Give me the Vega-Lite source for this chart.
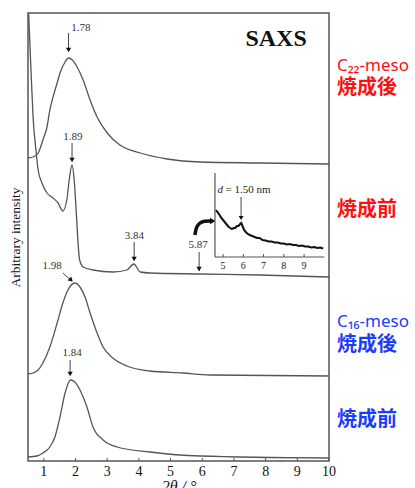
{
  "$schema": "https://vega.github.io/schema/vega-lite/v6.json",
  "width": 301,
  "height": 448,
  "autosize": "none",
  "padding": {"left": 28, "top": 13, "right": 86, "bottom": 27},
  "background": "white",
  "config": {
    "view": {"stroke": "#555", "strokeWidth": 1.5},
    "font": "Liberation Serif"
  },
  "datasets": {
    "curves": [
      {"series": "C22 after", "x": 0.5, "y": 303}, {"series": "C22 after", "x": 0.66, "y": 304}, {"series": "C22 after", "x": 0.82, "y": 308},
      {"series": "C22 after", "x": 0.97, "y": 321}, {"series": "C22 after", "x": 1.10, "y": 334}, {"series": "C22 after", "x": 1.19, "y": 351},
      {"series": "C22 after", "x": 1.29, "y": 364}, {"series": "C22 after", "x": 1.42, "y": 378}, {"series": "C22 after", "x": 1.51, "y": 388},
      {"series": "C22 after", "x": 1.67, "y": 399}, {"series": "C22 after", "x": 1.78, "y": 403}, {"series": "C22 after", "x": 1.90, "y": 401},
      {"series": "C22 after", "x": 2.05, "y": 394}, {"series": "C22 after", "x": 2.24, "y": 381}, {"series": "C22 after", "x": 2.46, "y": 361},
      {"series": "C22 after", "x": 2.68, "y": 344}, {"series": "C22 after", "x": 3.0, "y": 328}, {"series": "C22 after", "x": 3.4, "y": 316},
      {"series": "C22 after", "x": 4.04, "y": 308}, {"series": "C22 after", "x": 4.89, "y": 302}, {"series": "C22 after", "x": 5.93, "y": 299},
      {"series": "C22 after", "x": 7.82, "y": 298}, {"series": "C22 after", "x": 10.0, "y": 297},

      {"series": "C22 before", "x": 0.52, "y": 448}, {"series": "C22 before", "x": 0.59, "y": 394}, {"series": "C22 before", "x": 0.66, "y": 344},
      {"series": "C22 before", "x": 0.75, "y": 311}, {"series": "C22 before", "x": 0.82, "y": 291}, {"series": "C22 before", "x": 0.94, "y": 278},
      {"series": "C22 before", "x": 1.10, "y": 268}, {"series": "C22 before", "x": 1.29, "y": 263}, {"series": "C22 before", "x": 1.45, "y": 258},
      {"series": "C22 before", "x": 1.60, "y": 250}, {"series": "C22 before", "x": 1.73, "y": 262}, {"series": "C22 before", "x": 1.80, "y": 281},
      {"series": "C22 before", "x": 1.89, "y": 296}, {"series": "C22 before", "x": 1.96, "y": 280}, {"series": "C22 before", "x": 2.03, "y": 245},
      {"series": "C22 before", "x": 2.08, "y": 218}, {"series": "C22 before", "x": 2.13, "y": 201}, {"series": "C22 before", "x": 2.24, "y": 194},
      {"series": "C22 before", "x": 2.55, "y": 191}, {"series": "C22 before", "x": 3.18, "y": 189}, {"series": "C22 before", "x": 3.62, "y": 191},
      {"series": "C22 before", "x": 3.84, "y": 197}, {"series": "C22 before", "x": 4.04, "y": 189}, {"series": "C22 before", "x": 4.35, "y": 188},
      {"series": "C22 before", "x": 5.93, "y": 187}, {"series": "C22 before", "x": 7.82, "y": 186}, {"series": "C22 before", "x": 10.0, "y": 184},

      {"series": "C16 after", "x": 0.5, "y": 87}, {"series": "C16 after", "x": 0.66, "y": 88}, {"series": "C16 after", "x": 0.82, "y": 91},
      {"series": "C16 after", "x": 0.97, "y": 98}, {"series": "C16 after", "x": 1.19, "y": 114}, {"series": "C16 after", "x": 1.42, "y": 138},
      {"series": "C16 after", "x": 1.60, "y": 158}, {"series": "C16 after", "x": 1.76, "y": 171}, {"series": "C16 after", "x": 1.98, "y": 178},
      {"series": "C16 after", "x": 2.14, "y": 174}, {"series": "C16 after", "x": 2.30, "y": 164}, {"series": "C16 after", "x": 2.46, "y": 148},
      {"series": "C16 after", "x": 2.68, "y": 128}, {"series": "C16 after", "x": 2.87, "y": 114}, {"series": "C16 after", "x": 3.18, "y": 103},
      {"series": "C16 after", "x": 3.62, "y": 95}, {"series": "C16 after", "x": 4.35, "y": 90}, {"series": "C16 after", "x": 5.39, "y": 88},
      {"series": "C16 after", "x": 6.24, "y": 86}, {"series": "C16 after", "x": 10.0, "y": 85},

      {"series": "C16 before", "x": 0.5, "y": 4}, {"series": "C16 before", "x": 0.78, "y": 5}, {"series": "C16 before", "x": 0.97, "y": 8},
      {"series": "C16 before", "x": 1.19, "y": 14}, {"series": "C16 before", "x": 1.35, "y": 24}, {"series": "C16 before", "x": 1.51, "y": 44},
      {"series": "C16 before", "x": 1.67, "y": 68}, {"series": "C16 before", "x": 1.84, "y": 81}, {"series": "C16 before", "x": 1.98, "y": 79},
      {"series": "C16 before", "x": 2.14, "y": 71}, {"series": "C16 before", "x": 2.36, "y": 54}, {"series": "C16 before", "x": 2.55, "y": 34},
      {"series": "C16 before", "x": 2.87, "y": 21}, {"series": "C16 before", "x": 3.31, "y": 14}, {"series": "C16 before", "x": 4.35, "y": 9},
      {"series": "C16 before", "x": 5.93, "y": 5}, {"series": "C16 before", "x": 10.0, "y": 3}
    ],
    "xticks": [
      {"x": 1, "label": "1"}, {"x": 2, "label": "2"}, {"x": 3, "label": "3"}, {"x": 4, "label": "4"}, {"x": 5, "label": "5"},
      {"x": 6, "label": "6"}, {"x": 7, "label": "7"}, {"x": 8, "label": "8"}, {"x": 9, "label": "9"}, {"x": 10, "label": "10"}
    ],
    "arrows": [
      {"x": 1.78, "x2": 1.78, "y": 428, "y2": 410},
      {"x": 1.89, "x2": 1.89, "y": 318, "y2": 300},
      {"x": 3.85, "x2": 3.85, "y": 219, "y2": 201},
      {"x": 5.90, "x2": 5.90, "y": 209, "y2": 190},
      {"x": 1.83, "x2": 1.83, "y": 101, "y2": 86},
      {"x": 1.60, "x2": 1.88, "y": 188, "y2": 180}
    ],
    "heads": [
      {"x": 1.78, "y": 411, "kind": "down"},
      {"x": 1.89, "y": 301, "kind": "down"},
      {"x": 3.85, "y": 202, "kind": "down"},
      {"x": 5.90, "y": 192, "kind": "down"},
      {"x": 1.83, "y": 87, "kind": "down"},
      {"x": 1.86, "y": 181, "kind": "diag"}
    ],
    "peaks": [
      {"label": "1.78", "x": 2.17, "y": 433},
      {"label": "1.89", "x": 1.92, "y": 324},
      {"label": "3.84", "x": 3.86, "y": 225},
      {"label": "5.87", "x": 5.87, "y": 216},
      {"label": "1.98", "x": 1.26, "y": 195},
      {"label": "1.84", "x": 1.89, "y": 108}
    ],
    "curl": [
      {"x": 5.77, "y": 226}, {"x": 5.80, "y": 233}, {"x": 5.90, "y": 238}, {"x": 6.06, "y": 240}, {"x": 6.28, "y": 240}
    ],
    "side": [
      {"text": "C₂₂-meso", "x": 10.25, "y": 395, "grp": "red", "kind": "latin"},
      {"text": "焼成後", "x": 10.25, "y": 373, "grp": "red", "kind": "jp"},
      {"text": "焼成前", "x": 10.25, "y": 251, "grp": "red", "kind": "jp"},
      {"text": "C₁₆-meso", "x": 10.25, "y": 139, "grp": "blue", "kind": "latin"},
      {"text": "焼成後", "x": 10.25, "y": 116, "grp": "blue", "kind": "jp"},
      {"text": "焼成前", "x": 10.25, "y": 41, "grp": "blue", "kind": "jp"}
    ],
    "inset": [
      {"x": 4.65, "y": 47}, {"x": 4.72, "y": 45}, {"x": 4.80, "y": 43}, {"x": 4.88, "y": 40}, {"x": 4.96, "y": 38},
      {"x": 5.04, "y": 36}, {"x": 5.12, "y": 34}, {"x": 5.20, "y": 32}, {"x": 5.28, "y": 30}, {"x": 5.36, "y": 29},
      {"x": 5.44, "y": 28}, {"x": 5.52, "y": 29}, {"x": 5.60, "y": 29}, {"x": 5.68, "y": 31}, {"x": 5.76, "y": 31},
      {"x": 5.84, "y": 33}, {"x": 5.90, "y": 34}, {"x": 5.96, "y": 31}, {"x": 6.04, "y": 27}, {"x": 6.12, "y": 25},
      {"x": 6.22, "y": 23}, {"x": 6.32, "y": 22}, {"x": 6.44, "y": 21}, {"x": 6.56, "y": 20}, {"x": 6.68, "y": 19},
      {"x": 6.80, "y": 19}, {"x": 6.95, "y": 17}, {"x": 7.10, "y": 16.5}, {"x": 7.25, "y": 15.5}, {"x": 7.40, "y": 15.5},
      {"x": 7.55, "y": 14.5}, {"x": 7.70, "y": 14.5}, {"x": 7.85, "y": 13.5}, {"x": 8.00, "y": 13.5}, {"x": 8.15, "y": 12.5},
      {"x": 8.30, "y": 13}, {"x": 8.45, "y": 12}, {"x": 8.60, "y": 12}, {"x": 8.75, "y": 11}, {"x": 8.90, "y": 11.5},
      {"x": 9.05, "y": 10.5}, {"x": 9.20, "y": 10.5}, {"x": 9.35, "y": 9.5}, {"x": 9.50, "y": 10}, {"x": 9.65, "y": 9},
      {"x": 9.80, "y": 9.5}, {"x": 9.94, "y": 8.5}
    ],
    "insetAxes": [
      {"x": 4.6, "x2": 4.6, "y": 0, "y2": 84},
      {"x": 4.6, "x2": 10.0, "y": 0, "y2": 0}
    ],
    "insetTicks": [
      {"x": 5, "label": "5"}, {"x": 6, "label": "6"}, {"x": 7, "label": "7"}, {"x": 8, "label": "8"}, {"x": 9, "label": "9"}
    ]
  },
  "layer": [
    {
      "layer": [
        {
          "data": {"name": "curves"},
          "mark": {"type": "line", "interpolate": "monotone", "color": "#555", "strokeWidth": 1.3, "clip": true},
          "encoding": {
            "x": {"field": "x", "type": "quantitative", "scale": {"domain": [0.5, 10], "nice": false, "zero": false},
              "axis": {"labels": false, "ticks": false, "grid": false, "domain": false,
                "title": "2θ / °", "titleFont": "Liberation Serif", "titleFontSize": 16, "titleFontWeight": "normal", "titleFontStyle": "italic", "titleColor": "#111", "titlePadding": 17}},
            "y": {"field": "y", "type": "quantitative", "scale": {"domain": [0, 448], "nice": false, "zero": false},
              "axis": {"ticks": false, "labels": false, "domain": false, "grid": false,
                "title": "Arbitrary intensity", "titleFont": "Liberation Serif", "titleFontSize": 13.5, "titleFontWeight": "normal", "titleColor": "#111", "titlePadding": 6}},
            "detail": {"field": "series"}
          }
        },
        {
          "data": {"name": "xticks"},
          "mark": {"type": "rule", "color": "#555", "strokeWidth": 1},
          "encoding": {
            "x": {"field": "x", "type": "quantitative"},
            "y": {"datum": 0, "type": "quantitative"},
            "y2": {"datum": 3}
          }
        },
        {
          "data": {"name": "xticks"},
          "mark": {"type": "text", "font": "Liberation Serif", "fontSize": 14, "color": "#111", "baseline": "middle", "align": "center", "dy": 11},
          "encoding": {
            "x": {"field": "x", "type": "quantitative"},
            "y": {"datum": 0, "type": "quantitative"},
            "text": {"field": "label"}
          }
        },
        {
          "data": {"name": "arrows"},
          "mark": {"type": "rule", "color": "#444", "strokeWidth": 1},
          "encoding": {
            "x": {"field": "x", "type": "quantitative"},
            "x2": {"field": "x2"},
            "y": {"field": "y", "type": "quantitative"},
            "y2": {"field": "y2"}
          }
        },
        {
          "data": {"name": "heads"},
          "transform": [{"filter": "datum.kind === 'down'"}],
          "mark": {"type": "point", "shape": "triangle-down", "filled": true, "color": "#111", "size": 28, "opacity": 1},
          "encoding": {
            "x": {"field": "x", "type": "quantitative"},
            "y": {"field": "y", "type": "quantitative"}
          }
        },
        {
          "data": {"name": "heads"},
          "transform": [{"filter": "datum.kind === 'diag'"}],
          "mark": {"type": "point", "shape": "triangle-down", "filled": true, "color": "#111", "size": 28, "opacity": 1, "angle": 312},
          "encoding": {
            "x": {"field": "x", "type": "quantitative"},
            "y": {"field": "y", "type": "quantitative"}
          }
        },
        {
          "data": {"name": "peaks"},
          "mark": {"type": "text", "font": "Liberation Serif", "fontSize": 11, "color": "#333", "baseline": "middle", "align": "center"},
          "encoding": {
            "x": {"field": "x", "type": "quantitative"},
            "y": {"field": "y", "type": "quantitative"},
            "text": {"field": "label"}
          }
        },
        {
          "data": {"name": "curl"},
          "mark": {"type": "line", "interpolate": "basis", "color": "#111", "strokeWidth": 3.5},
          "encoding": {
            "x": {"field": "x", "type": "quantitative"},
            "y": {"field": "y", "type": "quantitative"}
          }
        },
        {
          "data": {"values": [{"x": 6.33, "y": 240}]},
          "mark": {"type": "point", "shape": "triangle-right", "filled": true, "color": "#111", "size": 40, "opacity": 1},
          "encoding": {
            "x": {"field": "x", "type": "quantitative"},
            "y": {"field": "y", "type": "quantitative"}
          }
        },
        {
          "data": {"values": [{"text": "SAXS", "x": 8.33, "y": 422}]},
          "mark": {"type": "text", "font": "Liberation Serif", "fontSize": 24, "fontWeight": "bold", "color": "#111", "baseline": "middle", "align": "center"},
          "encoding": {
            "x": {"field": "x", "type": "quantitative"},
            "y": {"field": "y", "type": "quantitative"},
            "text": {"field": "text"}
          }
        },
        {
          "data": {"name": "side"},
          "transform": [{"filter": "datum.kind === 'jp'"}],
          "mark": {"type": "text", "font": "Noto Sans CJK JP", "fontSize": 20, "fontWeight": "bold", "align": "left", "baseline": "middle"},
          "encoding": {
            "x": {"field": "x", "type": "quantitative"},
            "y": {"field": "y", "type": "quantitative"},
            "text": {"field": "text"},
            "color": {"field": "grp", "type": "nominal", "scale": {"domain": ["red", "blue"], "range": ["#ff1010", "#1a3cff"]}, "legend": null}
          }
        },
        {
          "data": {"name": "side"},
          "transform": [{"filter": "datum.kind === 'latin'"}],
          "mark": {"type": "text", "font": "Noto Sans", "fontSize": 17, "align": "left", "baseline": "middle"},
          "encoding": {
            "x": {"field": "x", "type": "quantitative"},
            "y": {"field": "y", "type": "quantitative"},
            "text": {"field": "text"},
            "color": {"field": "grp", "type": "nominal", "scale": {"domain": ["red", "blue"], "range": ["#ff1010", "#1a3cff"]}, "legend": null}
          }
        }
      ]
    },
    {
      "layer": [
        {
          "data": {"name": "insetAxes"},
          "mark": {"type": "rule", "color": "#555", "strokeWidth": 1.2},
          "encoding": {
            "x": {"field": "x", "type": "quantitative", "scale": {"domain": [-4.63, 10.23], "nice": false, "zero": false}, "axis": null},
            "x2": {"field": "x2"},
            "y": {"field": "y", "type": "quantitative", "scale": {"domain": [-204, 244], "nice": false, "zero": false}, "axis": null},
            "y2": {"field": "y2"}
          }
        },
        {
          "data": {"name": "insetTicks"},
          "mark": {"type": "rule", "color": "#555", "strokeWidth": 1},
          "encoding": {
            "x": {"field": "x", "type": "quantitative"},
            "y": {"datum": 0, "type": "quantitative"},
            "y2": {"datum": 3}
          }
        },
        {
          "data": {"name": "insetTicks"},
          "mark": {"type": "text", "font": "Liberation Serif", "fontSize": 10, "color": "#222", "baseline": "middle", "align": "center", "dy": 9},
          "encoding": {
            "x": {"field": "x", "type": "quantitative"},
            "y": {"datum": 0, "type": "quantitative"},
            "text": {"field": "label"}
          }
        },
        {
          "data": {"name": "inset"},
          "mark": {"type": "line", "color": "#111", "strokeWidth": 2},
          "encoding": {
            "x": {"field": "x", "type": "quantitative"},
            "y": {"field": "y", "type": "quantitative"}
          }
        },
        {
          "data": {"values": [{"x": 5.89, "y": 60, "y2": 38}]},
          "mark": {"type": "rule", "color": "#444", "strokeWidth": 1},
          "encoding": {
            "x": {"field": "x", "type": "quantitative"},
            "y": {"field": "y", "type": "quantitative"},
            "y2": {"field": "y2"}
          }
        },
        {
          "data": {"values": [{"x": 5.89, "y": 39}]},
          "mark": {"type": "point", "shape": "triangle-down", "filled": true, "color": "#111", "size": 24, "opacity": 1},
          "encoding": {
            "x": {"field": "x", "type": "quantitative"},
            "y": {"field": "y", "type": "quantitative"}
          }
        },
        {
          "data": {"values": [{"text": "d", "x": 4.72, "y": 67}]},
          "mark": {"type": "text", "font": "Liberation Serif", "fontSize": 11, "fontStyle": "italic", "color": "#222", "baseline": "middle", "align": "left"},
          "encoding": {
            "x": {"field": "x", "type": "quantitative"},
            "y": {"field": "y", "type": "quantitative"},
            "text": {"field": "text"}
          }
        },
        {
          "data": {"values": [{"text": "= 1.50 nm", "x": 5.12, "y": 67}]},
          "mark": {"type": "text", "font": "Liberation Serif", "fontSize": 11, "color": "#222", "baseline": "middle", "align": "left"},
          "encoding": {
            "x": {"field": "x", "type": "quantitative"},
            "y": {"field": "y", "type": "quantitative"},
            "text": {"field": "text"}
          }
        }
      ]
    }
  ],
  "resolve": {"scale": {"x": "independent", "y": "independent", "color": "independent"}, "axis": {"x": "independent", "y": "independent"}}
}
